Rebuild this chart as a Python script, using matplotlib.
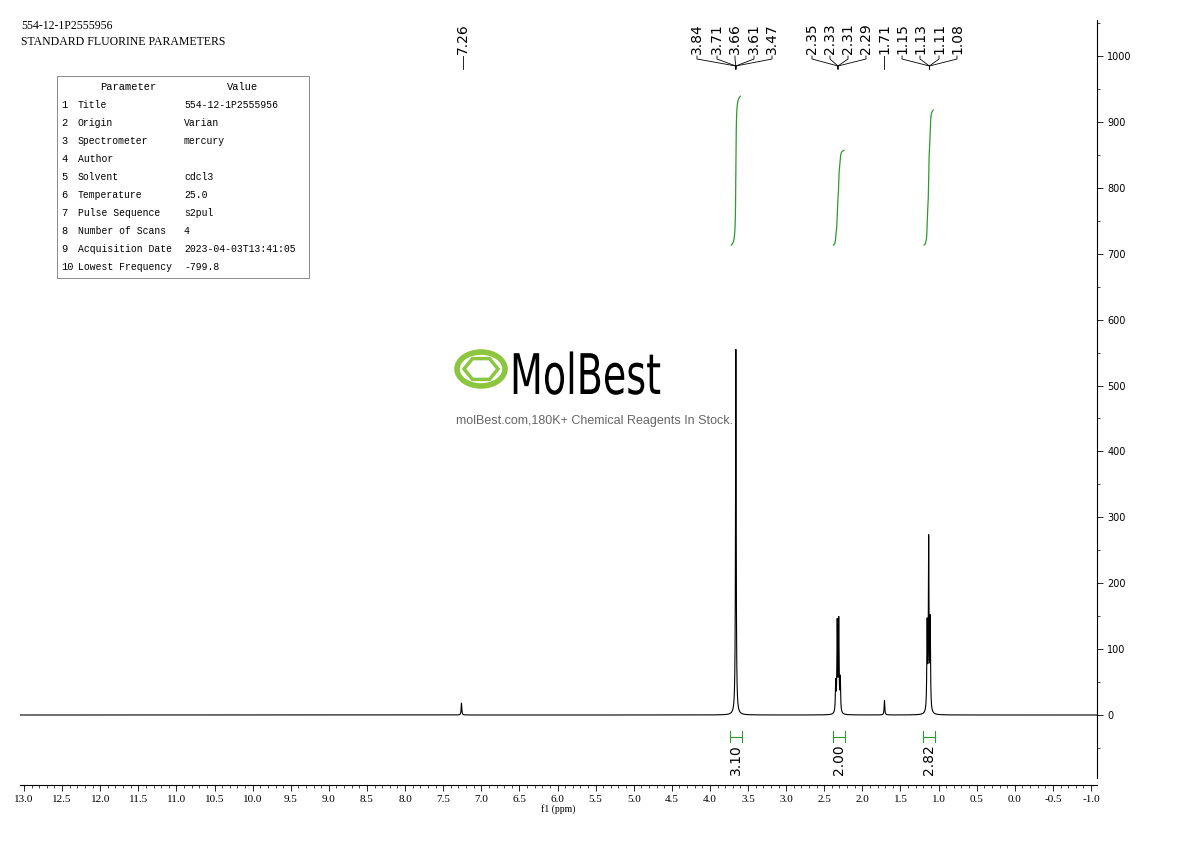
import numpy as np
import matplotlib
matplotlib.use("Agg")
import matplotlib.pyplot as plt
from matplotlib.patches import Rectangle, RegularPolygon, Circle, PathPatch
from matplotlib.textpath import TextPath
from matplotlib.font_manager import FontProperties
from matplotlib.transforms import Affine2D

# peaks: position (ppm), height
peak_ppm = [7.26, 3.66, 2.35, 2.33, 2.31, 2.29, 1.71, 1.15, 1.13, 1.11]
peak_h = [18, 555, 45, 135, 138, 50, 22, 130, 258, 135]

# labels at the top
label_vals = ["7.26", "3.84", "3.71", "3.66", "3.61", "3.47", "2.35", "2.33", "2.31", "2.29",
              "1.71", "1.15", "1.13", "1.11", "1.08"]
label_px = [463, 697, 717, 735, 754, 772, 812, 830, 848, 866, 884, 902, 920, 939, 957]

# integrals: (from, to, label value, top of curve)
integ_ranges = [(3.72, 3.60), (2.38, 2.24), (1.19, 1.07)]
integ_vals = ["3.10", "2.00", "2.82"]
integ_top = [939, 857, 918]

params = ["Title", "Origin", "Spectrometer", "Author", "Solvent", "Temperature",
          "Pulse Sequence", "Number of Scans", "Acquisition Date", "Lowest Frequency"]
values = ["554-12-1P2555956", "Varian", "mercury", "", "cdcl3", "25.0",
          "s2pul", "4", "2023-04-03T13:41:05", "-799.8"]

W, H = 1190, 841
fig = plt.figure(figsize=(W / 100, H / 100), dpi=100)
serif = "Liberation Serif"
mono = "Liberation Mono"

def fx(px):
    return px / W

def fy(py):
    return 1 - py / H

# axes: left px 20 -> right px 1097, top px 20 -> bottom px 785
ax = fig.add_axes([fx(20), fy(785), fx(1097) - fx(20), fy(20) - fy(785)])
ppx = 1067 / 14.0
ax.set_xlim(13.0 + 4 / ppx, -1.0 - 6 / ppx)
upx = 0.659
ax.set_ylim(-70 / upx, 695 / upx)

x = np.linspace(13.1, -1.1, 80000)
y = np.zeros_like(x)
w = 0.005
for p, h in zip(peak_ppm, peak_h):
    y += h * w**2 / ((x - p) ** 2 + w**2)
ax.plot(x, y, color="black", lw=0.8)

for (a, b), lab, top in zip(integ_ranges, integ_vals, integ_top):
    m = (x <= a) & (x >= b)
    xs = x[m]
    c = np.cumsum(y[m][::-1])[::-1]
    c = (c.max() - c) / (c.max() - c.min())
    ax.plot(xs, 713 + c * (top - 713), color="#2e9a2e", lw=0.9)
    mid = (a + b) / 2
    ax.plot([mid + 0.08, mid - 0.08], [-33, -33], color="#2e9a2e", lw=0.8)
    ax.plot([mid + 0.08, mid + 0.08], [-25, -41], color="#2e9a2e", lw=0.8)
    ax.plot([mid - 0.08, mid - 0.08], [-25, -41], color="#2e9a2e", lw=0.8)
    ax.text(mid, -45, lab, rotation=90, ha="center", va="top", fontsize=10)

for s in ["top", "left"]:
    ax.spines[s].set_visible(False)
ax.spines["right"].set_bounds(-95, 1055)
ax.yaxis.tick_right()
ax.set_yticks(np.arange(0, 1001, 100))
ax.set_yticks(np.arange(-50, 1051, 50), minor=True)
ax.tick_params(axis="y", labelsize=7, length=4, width=0.6, which="major")
ax.tick_params(axis="y", which="minor", length=2, width=0.5)
ax.set_xticks(np.arange(13.0, -1.01, -0.5))
ax.set_xticklabels([f"{v:.1f}" for v in np.arange(13.0, -1.01, -0.5)], fontfamily=serif)
ax.set_xticks(np.arange(13.0, -1.01, -0.1), minor=True)
ax.tick_params(axis="x", labelsize=8, length=4, width=0.6)
ax.tick_params(axis="x", which="minor", length=2, width=0.5)
ax.set_xlabel("f1 (ppm)", fontsize=7, fontfamily=serif, labelpad=0)

# peak labels
groups = {"3": 3.66, "2": 2.32, "1": 1.12}
for lab, px in zip(label_vals, label_px):
    fig.text(fx(px), fy(54), lab, rotation=90, ha="center", va="bottom", fontsize=10)
    if lab in ["7.26", "1.71"]:
        target = px
    else:
        target = 24 + (13.0 - groups[lab[0]]) * ppx
    xs_ = [fx(px), fx(px), fx(target), fx(target)]
    ys_ = [fy(56), fy(59), fy(66), fy(69)]
    fig.add_artist(plt.Line2D(xs_, ys_, color="black", lw=0.6))

# header text
fig.text(fx(21), fy(26), "554-12-1P2555956", fontsize=8.5, fontfamily=serif, va="center")
fig.text(fx(21), fy(42), "STANDARD FLUORINE PARAMETERS", fontsize=8.5, fontfamily=serif, va="center")

# parameter table
fig.add_artist(Rectangle((fx(57), fy(278)), fx(309) - fx(57), fy(76) - fy(278),
                         transform=fig.transFigure, fill=False, lw=0.6, ec="#777777"))
fig.text(fx(128), fy(87), "Parameter", fontsize=7.5, fontfamily=mono, ha="center", va="center")
fig.text(fx(243), fy(87), "Value", fontsize=7.5, fontfamily=mono, ha="center", va="center")
for i, (p, v) in enumerate(zip(params, values)):
    yy = fy(105 + i * 18)
    fig.text(fx(61), yy, str(i + 1), fontsize=7.5, fontfamily=mono, va="center")
    fig.text(fx(78), yy, p, fontsize=7, fontfamily=mono, va="center")
    fig.text(fx(184), yy, v, fontsize=7, fontfamily=mono, va="center")

# watermark
fig.add_artist(Circle((fx(481), fy(369)), 24 / W, transform=fig.transFigure,
                      fill=False, ec="#8cc63f", lw=4))
fig.add_artist(RegularPolygon((fx(481), fy(369)), 6, radius=17 / W, orientation=np.pi / 6,
                              transform=fig.transFigure, fill=False, ec="#8cc63f", lw=2.5))
tp = TextPath((0, 0), "MolBest", size=56, prop=FontProperties(family="DejaVu Sans"))
tp = tp.transformed(Affine2D().scale(0.68, 1.0).translate(510, H - 394))
fig.add_artist(PathPatch(tp, transform=None, fc="black", ec="none"))
fig.text(fx(594), fy(421), "molBest.com,180K+ Chemical Reagents In Stock.", fontsize=9,
         ha="center", va="center", color="#666666", fontfamily="Liberation Sans")

fig.savefig("out.png", dpi=100)
